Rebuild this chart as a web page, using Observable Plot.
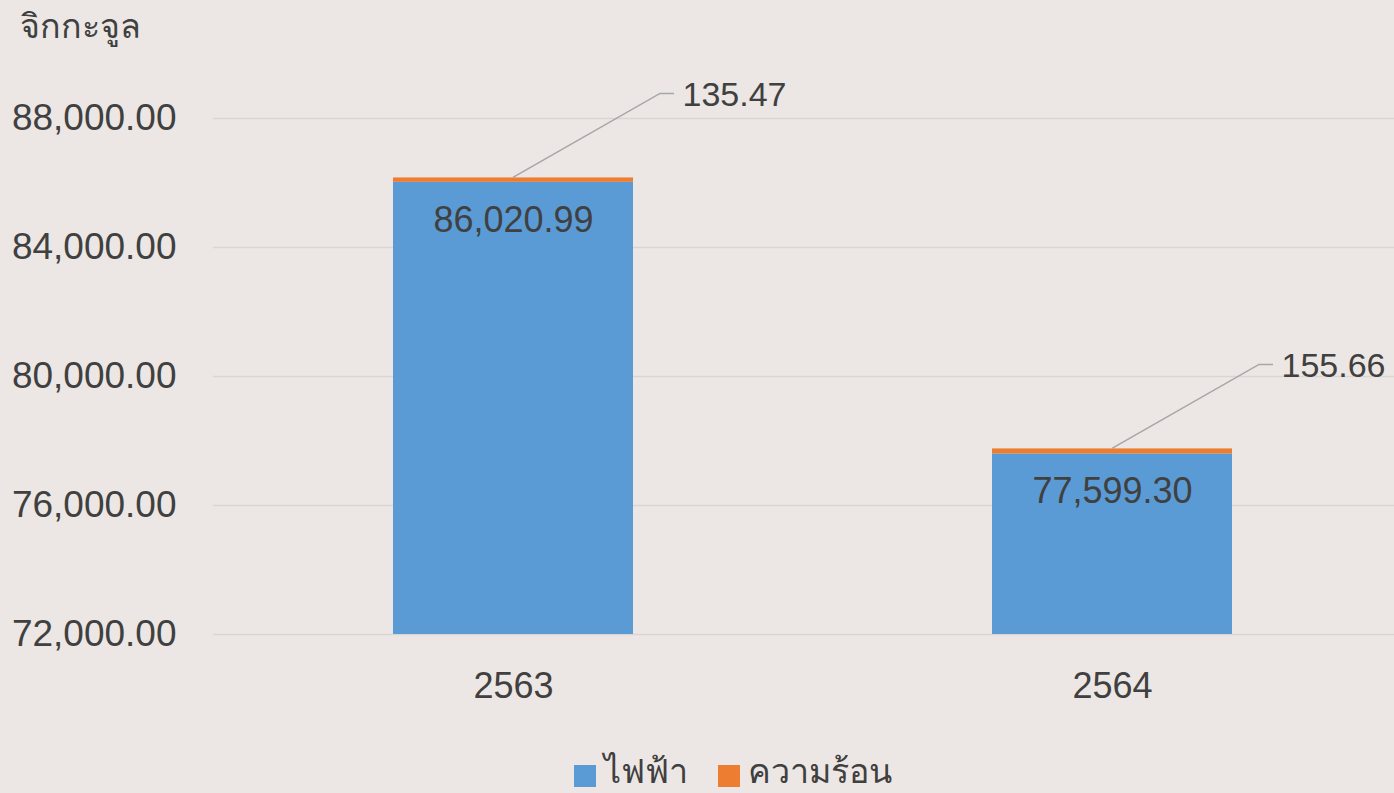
<!DOCTYPE html>
<html>
<head>
<meta charset="utf-8">
<script src="https://cdn.jsdelivr.net/npm/d3@7"></script>
<script src="https://cdn.jsdelivr.net/npm/@observablehq/plot@0.6"></script>
<style>
  html, body { margin: 0; padding: 0; width: 1394px; height: 793px; overflow: hidden; background: #ECE7E4; }
  #wrap { position: relative; width: 1394px; height: 793px; font-family: "Liberation Sans", Arial, "Noto Sans", sans-serif; color: #404040; }
  #unit { position: absolute; left: 20px; top: 4px; font-size: 34px; line-height: 44px; }
  #legend { position: absolute; left: 574px; top: 748px; display: flex; gap: 30px; font-size: 34px; line-height: 46px; }
  .item { display: flex; align-items: center; gap: 8px; }
  .sw { width: 22px; height: 22px; display: inline-block; margin-top: 10px; }
  #chart { position: absolute; left: 0; top: 0; }
</style>
</head>
<body>
<div id="wrap">
  <div id="chart"></div>
  <div id="unit"></div>
  <div id="legend"></div>
</div>
<script>
const unitLabel = "จิกกะจูล";
const years = ["2563", "2564"];
const seriesNames = ["ไฟฟ้า", "ความร้อน"];
const electricity = [86020.99, 77599.30];
const heat = [135.47, 155.66];
const yTicks = [72000, 76000, 80000, 84000, 88000];
const seriesColors = ["#5B9BD5", "#ED7D31"];

const fmt = d3.format(",.2f");
const rows = years.flatMap((yr, i) => [
  {year: yr, type: seriesNames[0], value: electricity[i]},
  {year: yr, type: seriesNames[1], value: heat[i]}
]);
const elecRows = years.map((yr, i) => ({year: yr, value: electricity[i]}));
const heatRows = years.map((yr, i) => ({year: yr, value: heat[i], total: electricity[i] + heat[i]}));

const pxPer4000 = 129;
const yBottom = 634;

function leaders(index, scales) {
  const x = scales.x, y = scales.y;
  const bw = x.bandwidth ? x.bandwidth() : 0;
  const g = d3.create("svg:g");
  for (const r of heatRows) {
    const x0 = x(r.year) + bw / 2;
    const y0 = y(r.total);
    g.append("path")
      .attr("d", `M${x0},${y0}L${x0 + 147},${y0 - 84}L${x0 + 161},${y0 - 84}`)
      .attr("fill", "none")
      .attr("stroke", "#A6A6A6")
      .attr("stroke-width", 1.5);
  }
  return g.node();
}

const chart = Plot.plot({
  width: 1394,
  height: 793,
  marginLeft: 213,
  marginRight: 0,
  marginTop: 0,
  marginBottom: 793 - yBottom,
  style: {background: "transparent", fontFamily: "'Liberation Sans', Arial, sans-serif", color: "#404040", fontSize: "35px"},
  x: {domain: years, range: [213, 1411], paddingInner: 0.6, paddingOuter: 0.3},
  y: {domain: [72000, 90000], range: [yBottom, yBottom - 18000 * pxPer4000 / 4000]},
  color: {domain: seriesNames, range: seriesColors},
  marks: [
    Plot.ruleY(yTicks, {stroke: "#D9D5D3", strokeWidth: 1.5}),
    Plot.barY(rows, {x: "year", y: "value", fill: "type", clip: true}),
    Plot.axisY(yTicks, {tickSize: 0, tickPadding: 37, tickFormat: d => fmt(d), fontSize: 37, fill: "#404040", label: null}),
    Plot.axisX({tickSize: 0, tickPadding: 38, fontSize: 36, fill: "#404040", label: null}),
    Plot.text(elecRows, {x: "year", y: "value", dy: 38, text: d => fmt(d.value), fontSize: 36, fill: "#404040"}),
    leaders,
    Plot.text(heatRows, {x: "year", y: "total", dx: 169, dy: -83, text: d => fmt(d.value), textAnchor: "start", fontSize: 34, fill: "#404040"})
  ]
});
document.getElementById("chart").appendChild(chart);
document.getElementById("unit").textContent = unitLabel;
const legend = document.getElementById("legend");
seriesNames.forEach((n, i) => {
  const item = document.createElement("div");
  item.className = "item";
  const sw = document.createElement("span");
  sw.className = "sw";
  sw.style.background = seriesColors[i];
  const t = document.createElement("span");
  t.textContent = n;
  item.appendChild(sw);
  item.appendChild(t);
  legend.appendChild(item);
});
</script>
</body>
</html>
